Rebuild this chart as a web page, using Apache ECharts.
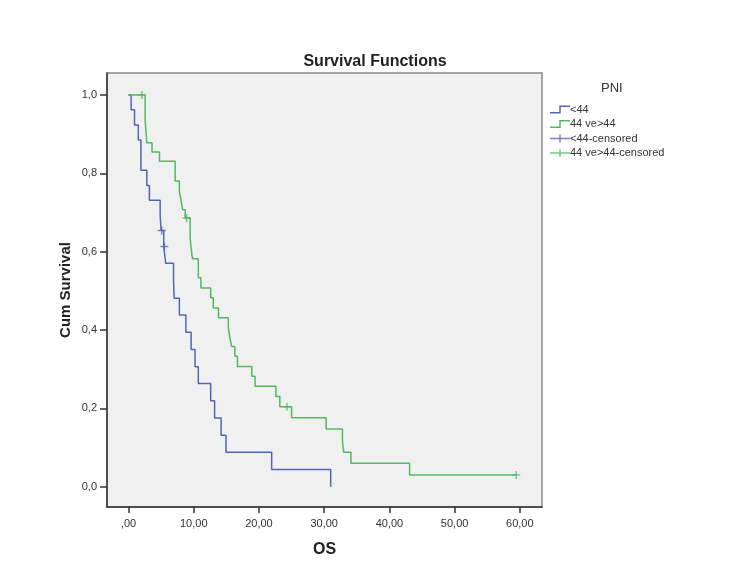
<!DOCTYPE html>
<html>
<head>
<meta charset="utf-8">
<title>Survival Functions</title>
<script src="https://cdn.jsdelivr.net/npm/echarts@6/dist/echarts.min.js"></script>
<style>
  html, body { margin: 0; padding: 0; background: #fff; }
  #chart { width: 750px; height: 575px; }
</style>
</head>
<body>
<div id="chart"></div>
<script>
// Kaplan-Meier steps: [time, cum survival]
var lowSteps = [
  [0, 1.0], [0.4, 0.962], [0.92, 0.923], [1.5, 0.885], [1.9, 0.808],
  [2.8, 0.769], [3.2, 0.731], [4.85, 0.692], [5.0, 0.654], [5.4, 0.613],
  [5.7, 0.570], [6.9, 0.525], [7.0, 0.481], [7.8, 0.438], [8.8, 0.394],
  [9.6, 0.350], [10.2, 0.306], [10.7, 0.263], [12.6, 0.219], [13.2, 0.175],
  [14.2, 0.131], [14.95, 0.088], [21.95, 0.044], [31.0, 0.0]
]
var highSteps = [
  [0, 1.0], [2.55, 0.936], [2.8, 0.878], [3.6, 0.854], [4.75, 0.831],
  [7.15, 0.780], [7.8, 0.754], [8.07, 0.729], [8.3, 0.707], [8.7, 0.686],
  [9.45, 0.633], [9.6, 0.609], [9.8, 0.582], [10.7, 0.533], [11.1, 0.507],
  [12.6, 0.482], [13.0, 0.456], [13.8, 0.431], [15.3, 0.405], [15.55, 0.380],
  [15.8, 0.358], [16.3, 0.333], [16.7, 0.307], [18.9, 0.282], [19.4, 0.256],
  [22.6, 0.230], [23.2, 0.204], [25.0, 0.176], [30.3, 0.147], [32.8, 0.117],
  [33.0, 0.088], [34.1, 0.060], [43.1, 0.030], [59.45, 0.030]
]
var lowCensored = [[5.1, 0.654], [5.5, 0.613]]
var highCensored = [[2.05, 1.0], [8.9, 0.686], [24.3, 0.204], [59.45, 0.030]]

var xTicks = [0, 10, 20, 30, 40, 50, 60]
var yTicks = [0, 0.2, 0.4, 0.6, 0.8, 1.0]
var seriesNames = ['<44', '44 ve>44', '<44-censored', '44 ve>44-censored']

var blue = '#5465b6'
var green = '#52b95e'
var font = 'Liberation Sans, Arial, sans-serif'

// legend icons (filled shapes so they take the series colour)
var stepIcon = 'path://M0,6.5 L9.25,6.5 L9.25,0 L20,0 L20,1.5 L10.75,1.5 L10.75,8 L0,8 Z'
var crossIcon = 'path://M0,3.25 L9.25,3.25 L9.25,0 L10.75,0 L10.75,3.25 L20,3.25 L20,4.75 L10.75,4.75 L10.75,8 L9.25,8 L9.25,4.75 L0,4.75 Z'
var plusMark = 'path://M3.3,0 L4.7,0 L4.7,3.3 L8,3.3 L8,4.7 L4.7,4.7 L4.7,8 L3.3,8 L3.3,4.7 L0,4.7 L0,3.3 L3.3,3.3 Z'

function commaNum (v, digits) {
  var s = v.toFixed(digits).replace('.', ',')
  if (s.indexOf('0,') === 0 && digits === 2) s = s.substring(1)
  return s
}

var chart = echarts.init(document.getElementById('chart'))
chart.setOption({
  animation: false,
  backgroundColor: '#fff',
  textStyle: { fontFamily: font },
  title: [{
    text: 'Survival Functions',
    left: 'center',
    top: 49,
    textStyle: { fontSize: 16, fontWeight: 'bold', color: '#222', fontFamily: font }
  }, {
    text: 'PNI',
    left: 596,
    top: 77,
    textStyle: { fontSize: 13, fontWeight: 'normal', color: '#333', fontFamily: font }
  }],
  legend: {
    orient: 'vertical',
    left: 545,
    top: 99,
    itemWidth: 20,
    itemHeight: 8,
    itemGap: 3.5,
    textStyle: { fontSize: 11, color: '#333', fontFamily: font, padding: [0, 0, 0, -5] },
    data: [
      { name: seriesNames[0], icon: stepIcon },
      { name: seriesNames[1], icon: stepIcon },
      { name: seriesNames[2], icon: crossIcon },
      { name: seriesNames[3], icon: crossIcon }
    ]
  },
  grid: {
    left: 107,
    right: 208,
    top: 73,
    bottom: 68,
    show: true,
    backgroundColor: '#f0f0f0',
    borderColor: '#888',
    borderWidth: 1.5
  },
  xAxis: {
    type: 'value',
    min: -3.3,
    max: 63.4,
    name: 'OS',
    nameLocation: 'middle',
    nameGap: 35,
    nameTextStyle: { fontSize: 16, fontWeight: 'bold', color: '#222', fontFamily: font },
    axisLine: { show: true, onZero: false, lineStyle: { color: '#333', width: 1.5 } },
    axisTick: { show: true, length: 6, customValues: xTicks, lineStyle: { color: '#333', width: 1.5 } },
    axisLabel: {
      customValues: xTicks,
      margin: 11,
      fontSize: 11,
      color: '#333',
      fontFamily: font,
      formatter: function (v) { return commaNum(v, 2) }
    },
    splitLine: { show: false }
  },
  yAxis: {
    type: 'value',
    min: -0.052,
    max: 1.056,
    name: 'Cum Survival',
    nameLocation: 'middle',
    nameGap: 34,
    nameMoveOverlap: false,
    nameTextStyle: { fontSize: 15, fontWeight: 'bold', color: '#222', fontFamily: font },
    axisLine: { show: true, onZero: false, lineStyle: { color: '#333', width: 1.5 } },
    axisTick: { show: true, length: 7, customValues: yTicks, lineStyle: { color: '#333', width: 1.5 } },
    axisLabel: {
      customValues: yTicks,
      margin: 10,
      fontSize: 11,
      color: '#333',
      fontFamily: font,
      formatter: function (v) { return commaNum(v, 1) }
    },
    splitLine: { show: false }
  },
  series: [{
    name: seriesNames[0],
    type: 'line',
    step: 'end',
    showSymbol: false,
    data: lowSteps,
    itemStyle: { color: blue },
    lineStyle: { color: blue, width: 1.5 }
  }, {
    name: seriesNames[1],
    type: 'line',
    step: 'end',
    showSymbol: false,
    data: highSteps,
    itemStyle: { color: green },
    lineStyle: { color: green, width: 1.5 }
  }, {
    name: seriesNames[2],
    type: 'scatter',
    symbol: plusMark,
    symbolSize: 8,
    data: lowCensored,
    itemStyle: { color: blue }
  }, {
    name: seriesNames[3],
    type: 'scatter',
    symbol: plusMark,
    symbolSize: 8,
    data: highCensored,
    itemStyle: { color: green }
  }]
})
</script>
</body>
</html>
